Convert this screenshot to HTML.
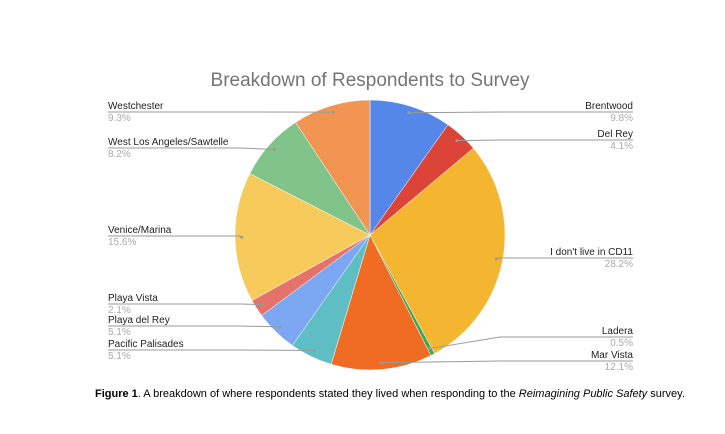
<!DOCTYPE html>
<html><head><meta charset="utf-8"><style>
body{margin:0;background:#fff;font-family:"Liberation Sans",Arial,sans-serif}
#wrap{position:relative;width:725px;height:434px;overflow:hidden}
.cap{position:absolute;left:95px;top:388px;font-size:11px;color:#000}
</style></head><body>
<div id="wrap">
<svg id="chart" width="725" height="434">
<text x="370" y="86" text-anchor="middle" font-size="19" fill="#757575">Breakdown of Respondents to Survey</text>
<g id="slices"></g><g id="labels"></g>
</svg>
<div class="cap"><b>Figure 1</b>. A breakdown of where respondents stated they lived when responding to the <i>Reimagining Public Safety</i> survey.</div>
</div>
<script>
const categories=["Brentwood","Del Rey","I don't live in CD11","Ladera","Mar Vista","Pacific Palisades","Playa del Rey","Playa Vista","Venice/Marina","West Los Angeles/Sawtelle","Westchester"];
const values=[9.8,4.1,28.2,0.5,12.1,5.1,5.1,2.1,15.6,8.2,9.3];
const pctLabels=["9.8%","4.1%","28.2%","0.5%","12.1%","5.1%","5.1%","2.1%","15.6%","8.2%","9.3%"];
const colors=["#5587e8","#db4437","#f4b631","#3aa757","#ef6c22","#5ebec4","#7ca8f3","#e6736b","#f7cb5b","#80c48a","#f39552"];
const labelY=[112,140,258,337,361,350,326,304,236,148,112];
const cx=370,cy=235,R=135,NS="http://www.w3.org/2000/svg";
const total=values.reduce((a,b)=>a+b,0);
const sl=document.getElementById('slices'),lb=document.getElementById('labels');
function pt(frac,r){const a=frac*2*Math.PI;return [cx+r*Math.sin(a),cy-r*Math.cos(a)];}
let cum=0;
values.forEach((v,i)=>{
 const s=cum/total,e=(cum+v)/total;cum+=v;
 const [x1,y1]=pt(s,R),[x2,y2]=pt(e,R);
 const p=document.createElementNS(NS,'path');
 p.setAttribute('d',`M${cx},${cy}L${x1},${y1}A${R},${R} 0 ${e-s>0.5?1:0} 1 ${x2},${y2}Z`);
 p.setAttribute('fill',colors[i]);p.setAttribute('stroke','#fff');p.setAttribute('stroke-width','0.5');
 
 
 sl.appendChild(p);
 const [ax,ay]=pt((s+e)/2,R*0.95);
 const right=(s+e)/2<0.5;
 const ly=labelY[i];
 const lx=right?633:108;
 const line=document.createElementNS(NS,'polyline');
 line.setAttribute('points',`${lx},${ly} ${right?Math.max(ax,500):Math.min(ax,240)},${ly} ${ax},${ay}`);
 line.setAttribute('fill','none');line.setAttribute('stroke','#999');line.setAttribute('stroke-width','1');
 
 
 lb.appendChild(line);
 const d=document.createElementNS(NS,'circle');d.setAttribute('cx',ax);d.setAttribute('cy',ay);d.setAttribute('r',1.5);d.setAttribute('fill','#999');
 
 
 lb.appendChild(d);
 const t=document.createElementNS(NS,'text');t.setAttribute('x',lx);t.setAttribute('y',ly-3);t.setAttribute('font-size','10');t.setAttribute('fill','#222');
 t.setAttribute('text-anchor',right?'end':'start');t.textContent=categories[i];
 
 
 lb.appendChild(t);
 const t2=document.createElementNS(NS,'text');t2.setAttribute('x',lx);t2.setAttribute('y',ly+9);t2.setAttribute('font-size','10');t2.setAttribute('fill','#aaa');
 t2.setAttribute('text-anchor',right?'end':'start');t2.textContent=pctLabels[i];
 
 
 lb.appendChild(t2);
});
</script>
</body></html>
